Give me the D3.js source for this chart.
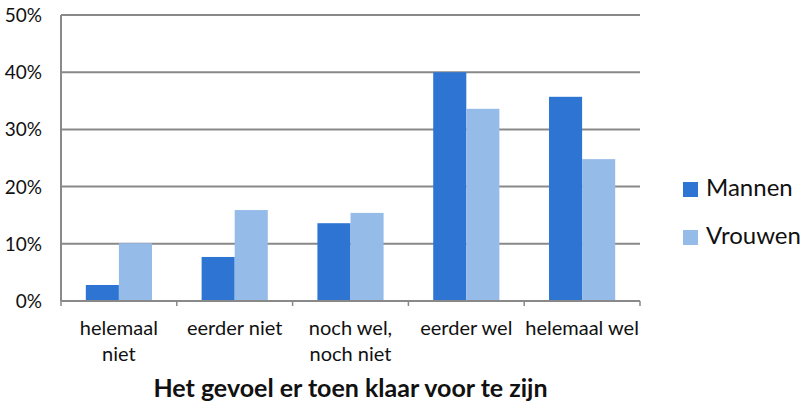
<!DOCTYPE html>
<html>
<head>
<meta charset="utf-8">
<script src="https://cdn.jsdelivr.net/npm/d3@7"></script>
<style>
  body { margin: 0; background: #fff; }
  svg { font-family: Lato, "Open Sans", sans-serif; }
</style>
</head>
<body>
<svg id="chart" width="806" height="406"></svg>
<script>
const categories = [["helemaal", "niet"], ["eerder niet"], ["noch wel,", "noch niet"], ["eerder wel"], ["helemaal wel"]];
const seriesNames = ["Mannen", "Vrouwen"];
const mannen = [2.8, 7.7, 13.6, 40.0, 35.7];
const vrouwen = [10.1, 15.9, 15.4, 33.6, 24.8];
const yTicks = [0, 10, 20, 30, 40, 50];
const colors = ["#2E75D3", "#95BBE8"];
const xTitle = "Het gevoel er toen klaar voor te zijn";

const plotLeft = 61, plotRight = 640, plotTop = 15, plotBottom = 301;
const gridColor = "#898989";

const svg = d3.select("#chart");

const x = d3.scaleBand()
    .domain(d3.range(categories.length))
    .range([plotLeft, plotRight]);

// two bars per group, ~25px gap on each side
const inner = d3.scaleBand()
    .domain(seriesNames)
    .range([0, x.bandwidth()])
    .paddingOuter(0.75);

const y = d3.scaleLinear().domain([0, 50]).range([plotBottom, plotTop]);

// gridlines
svg.append("g")
  .selectAll("line")
  .data(yTicks)
  .join("line")
    .attr("x1", plotLeft).attr("x2", plotRight)
    .attr("y1", d => y(d)).attr("y2", d => y(d))
    .attr("stroke", gridColor).attr("stroke-width", 2);

// y labels
svg.append("g")
  .selectAll("text")
  .data(yTicks)
  .join("text")
    .attr("x", 42).attr("y", d => y(d) + 7)
    .attr("text-anchor", "end")
    .attr("font-size", 19)
    .attr("fill", "#111")
    .text(d => d + "%");

// bars
const series = [mannen, vrouwen];
series.forEach((vals, si) => {
  svg.append("g")
    .selectAll("rect")
    .data(vals)
    .join("rect")
      .attr("x", (d, i) => x(i) + inner(seriesNames[si]))
      .attr("y", d => y(d))
      .attr("width", inner.bandwidth())
      .attr("height", d => y(0) - y(d))
      .attr("fill", colors[si]);
});

// y axis line
svg.append("line")
  .attr("x1", plotLeft).attr("x2", plotLeft)
  .attr("y1", plotTop).attr("y2", plotBottom)
  .attr("stroke", gridColor).attr("stroke-width", 2);

// x axis with ticks between categories
const xAxis = svg.append("g")
  .attr("transform", `translate(0,${plotBottom})`);
xAxis.append("line")
  .attr("x1", plotLeft).attr("x2", plotRight)
  .attr("stroke", gridColor).attr("stroke-width", 2);
xAxis.selectAll(".tick")
  .data(d3.range(categories.length + 1))
  .join("line")
    .attr("x1", d => plotLeft + d * x.step()).attr("x2", d => plotLeft + d * x.step())
    .attr("y1", 0).attr("y2", 5)
    .attr("stroke", gridColor).attr("stroke-width", 1.5);

// x labels
const xl = svg.append("g")
  .selectAll("text")
  .data(categories)
  .join("text")
    .attr("text-anchor", "middle")
    .attr("font-size", 20)
    .attr("fill", "#111");
xl.each(function(lines, i) {
  d3.select(this).selectAll("tspan")
    .data(lines)
    .join("tspan")
      .attr("x", x(i) + x.bandwidth() / 2)
      .attr("y", (d, j) => 335 + j * 26)
      .text(d => d);
});

// x title
svg.append("text")
  .attr("x", (plotLeft + plotRight) / 2).attr("y", 397)
  .attr("text-anchor", "middle")
  .attr("font-size", 25)
  .attr("font-weight", "bold")
  .attr("fill", "#111")
  .text(xTitle);

// legend
const lg = svg.append("g")
  .selectAll("g")
  .data(seriesNames)
  .join("g")
    .attr("transform", (d, i) => `translate(683,${182 + i * 48})`);
lg.append("rect")
  .attr("width", 15).attr("height", 15)
  .attr("fill", (d, i) => colors[i]);
lg.append("text")
  .attr("x", 23).attr("y", 14)
  .attr("font-size", 24)
  .attr("fill", "#111")
  .text(d => d);
</script>
</body>
</html>
